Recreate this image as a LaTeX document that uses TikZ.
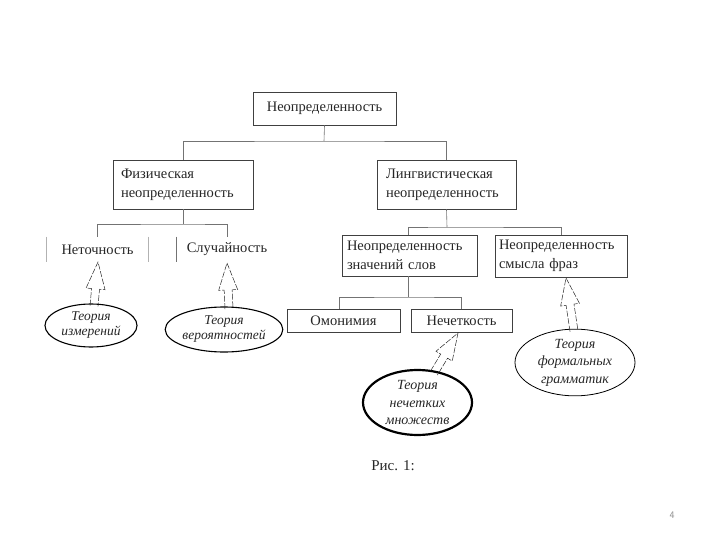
\documentclass[tikz,border=0pt]{standalone}
\usepackage{fontspec}
\setmainfont{Liberation Serif}
\usetikzlibrary{calc,shapes.geometric}
\tikzset{
  box/.style={draw=black!75, line width=0.6pt, inner ysep=0pt, font=\fontsize{14.5}{19}\selectfont, text=black!85},
  conn/.style={draw=black!55, line width=0.6pt},
  sidebar/.style={draw=black!30, line width=0.8pt},
  oval/.style={ellipse, draw=black, inner sep=0pt, align=center, font=\fontsize{14}{17.5}\selectfont\itshape, text=black!85},
  smalloval/.style={oval, font=\fontsize{13.5}{15}\selectfont\itshape},
  fat/.style={draw=black!85, line width=0.5pt, dash pattern=on 6pt off 1.6pt, line join=miter},
}
\newcommand\fatarrow[2]{%
  \draw[fat] ($(#1)!4pt!90:(#2)$) -- ($(#2)!27pt!(#1)!4pt!-90:(#1)$)
    -- ($(#2)!27pt!(#1)!9.5pt!-90:(#1)$) -- (#2)
    -- ($(#2)!27pt!(#1)!9.5pt!90:(#1)$) -- ($(#2)!27pt!(#1)!4pt!90:(#1)$)
    -- ($(#1)!4pt!-90:(#2)$);}
\begin{document}
\begin{tikzpicture}[x=1pt,y=-1pt]
\useasboundingbox (0,0) rectangle (720,540);
% level 0
\node[box, minimum width=143pt, minimum height=33pt] (top) at (324.5,108.5) {Неопределенность};
% level 1
\node[box, text width=124pt, inner xsep=8pt, align=left, minimum height=49pt] (phys) at (183,184.5) {Физическая\\неопределенность};
\node[box, text width=121pt, inner xsep=9pt, align=left, minimum height=49pt] (ling) at (446.5,184.5) {Лингвистическая\\неопределенность};
% level 2 left
\node[box, draw=none, minimum width=101pt, minimum height=25pt, inner xsep=0pt] (neto) at (97.5,249.5) {Неточность};
\node[box, draw=none, minimum width=100pt, minimum height=25pt, inner xsep=0pt] (sluch) at (227,249.5) {Случайность};
\draw[sidebar] (neto.north west) -- (neto.south west);
\draw[sidebar] (neto.north east) -- (neto.south east);
\draw[sidebar, draw=black!55] (sluch.north west) -- (sluch.south west);
% level 2 right
\node[box, text width=125pt, inner xsep=5pt, align=left, minimum height=41pt] (zn) at (409.5,255.5) {Неопределенность\\значений слов};
\node[box, text width=124pt, inner xsep=4pt, align=left, minimum height=42pt] (sm) at (561,256) {Неопределенность\\смысла фраз};
% level 3
\node[box, minimum width=113pt, minimum height=23pt, inner xsep=0pt] (omon) at (343.5,320.5) {Омонимия};
\node[box, minimum width=101pt, minimum height=23pt, inner xsep=0pt] (nech) at (461.5,320.5) {Нечеткость};
% buses
\coordinate (b0) at (324,141);
\coordinate (b1) at (183,224);
\coordinate (b2) at (447,227);
\coordinate (b3) at (408,297);
\draw[conn] (top.south) -- (b0);
\draw[conn] (phys.north) |- (b0) -| (ling.north);
\draw[conn] (phys.south) -- (b1);
\draw[conn] (neto.north) |- (b1) -| (sluch.north);
\draw[conn] (ling.south) -- (b2);
\draw[conn] (zn.north -| b3) |- (b2) -| (sm.north);
\draw[conn] (zn.south -| b3) -- (b3);
\draw[conn] ([xshift=-4.5pt]omon.north) |- (b3) -| (nech.north);
% ellipses
\node[smalloval, line width=1.1pt, minimum width=92pt, minimum height=43pt] (e1) at (91,325.5) {Теория\\измерений};
\node[smalloval, line width=1.1pt, minimum width=114pt, minimum height=45pt] (e2) at (224,329.5) {Теория\\вероятностей};
\node[oval, line width=2.2pt, minimum width=109pt, minimum height=65pt] (e3) at (417.5,402.5) {Теория\\нечетких\\множеств};
\node[oval, line width=0.8pt, minimum width=120pt, minimum height=65pt] (e4) at (575,362.5) {Теория\\формальных\\грамматик};
% fat dashed arrows
\coordinate (a1s) at (94,306);   \coordinate (a1t) at (98,262);
\coordinate (a2s) at (229,309);  \coordinate (a2t) at (227,263);
\coordinate (a3s) at (434,373);  \coordinate (a3t) at (458,333);
\coordinate (a4s) at (574,331);  \coordinate (a4t) at (566,278);
\fatarrow{a1s}{a1t}
\fatarrow{a2s}{a2t}
\fatarrow{a3s}{a3t}
\fatarrow{a4s}{a4t}
% caption and page number
\node[font=\fontsize{15}{18}\selectfont, text=black!85] (cap) at (393,466) {Рис. 1:};
\node[font=\sffamily\fontsize{10}{12}\selectfont, text=black!45] (pg) at (672,515) {4};
\end{tikzpicture}
\end{document}
